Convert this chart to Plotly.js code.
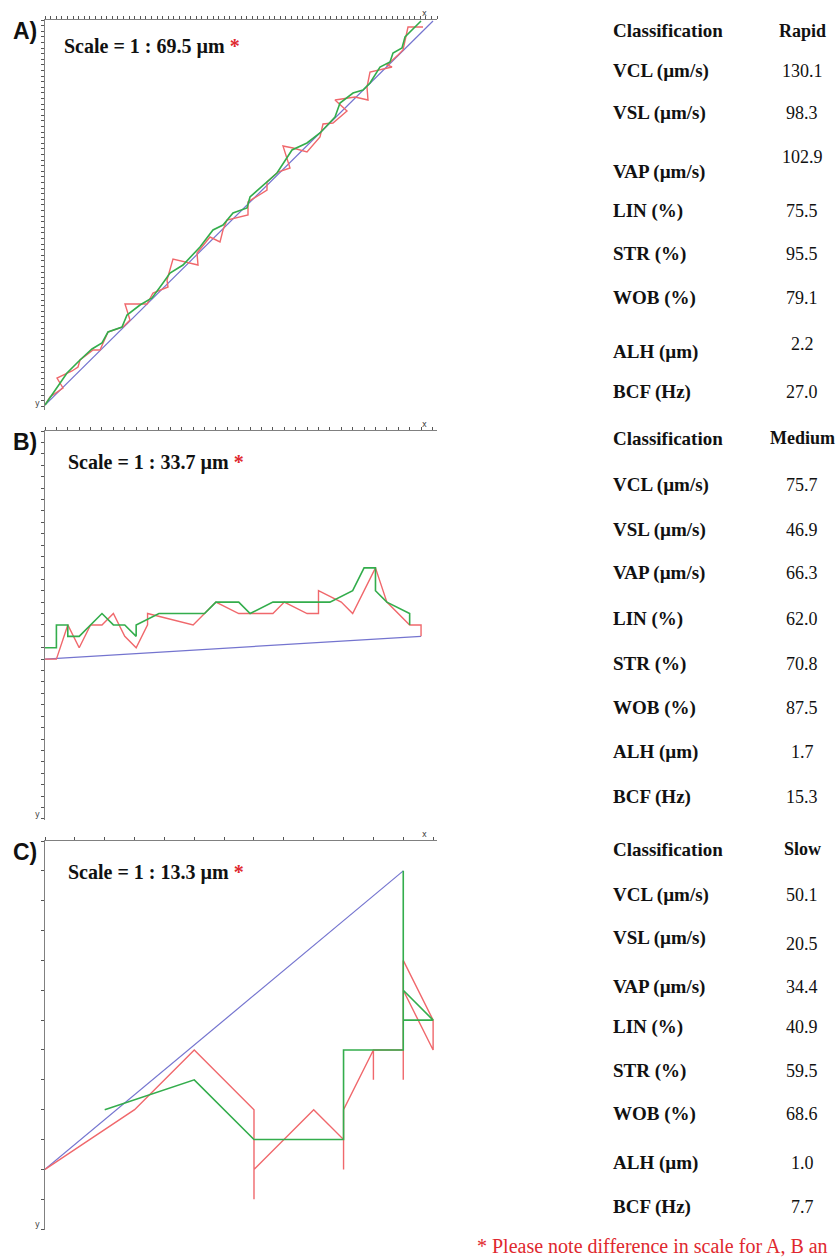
<!DOCTYPE html>
<html>
<head>
<meta charset="utf-8">
<script src="https://cdn.plot.ly/plotly-3.0.1.min.js"></script>
<style>html,body{margin:0;padding:0;background:#fff;}#chart{width:837px;height:1259px;}</style>
</head>
<body>
<div id="chart"></div>
<script>
// ---------------- DATA ----------------
// Panel A (Rapid) – track coordinates (image-pixel units, y downward)
const aVclX = [0,5,18,12,27,33,35,48,55,63,78,85,80,102,108,123,122,128,153,152,165,175,178,182,203,203,222,222,233,245,238,248,262,275,278,288,302,290,310,323,322,325,347,342,353,358,363,378];
const aVclY = [385,377,368,358,351,347,340,330,330,312,307,300,284,284,273,267,260,239,245,233,217,222,210,200,195,182,170,162,152,148,126,128,132,117,104,103,91,80,77,80,67,52,47,45,35,30,7,7];
const aVapX = [0,12,22,35,47,57,63,77,82,95,107,118,125,138,155,168,178,188,202,205,222,232,247,262,275,290,295,308,318,325,335,345,348,357,360,367,376];
const aVapY = [385,367,353,340,329,323,312,307,295,285,278,263,253,245,227,210,205,193,188,177,162,153,130,123,113,97,83,73,70,63,47,42,33,28,17,10,1];
const aVslX = [0,388];
const aVslY = [385,1];

// Panel B (Medium) – track coordinates (grid units)
const bVclX = [0,1,2,3,4,5,6,7,8,9,9,13,15,17,20,21,23,24,24,26,27,29,30,32,33,33];
const bVclY = [20,20,17,19,17,17,16,18,19,17,16,17,15,16,16,15,16,16,14,15,16,12,15,17,17,18];
const bVapX = [0,1,1,2,2,3,5,6,7,8,8,10,14,15,17,18,20,25,27,28,29,29,30,32,32];
const bVapY = [19,19,17,17,18,18,16,17,17,18,17,16,16,15,15,16,15,15,14,12,12,14,15,16,17];
const bVslX = [0,33];
const bVslY = [20,18];

// Panel C (Slow) – track coordinates (grid units)
const cVclX = [0,3,5,7,7,7,9,10,10,10,11,11,11,12,12,12,13,13,12];
const cVclY = [11,9,7,9,12,11,9,10,11,9,7,8,7,7,8,4,6,7,5];
const cVapX = [2,5,7,10,10,11,12,12,12,13,12];
const cVapY = [9,8,10,10,7,7,7,1,5,6,6];
const cVslX = [0,12];
const cVslY = [11,1];

// Table texts
const paramLabels = ["Classification","VCL (µm/s)","VSL (µm/s)","VAP (µm/s)","LIN (%)","STR (%)","WOB (%)","ALH (µm)","BCF (Hz)"];
const valuesA = ["Rapid","130.1","98.3","102.9","75.5","95.5","79.1","2.2","27.0"];
const valuesB = ["Medium","75.7","46.9","66.3","62.0","70.8","87.5","1.7","15.3"];
const valuesC = ["Slow","50.1","20.5","34.4","40.9","59.5","68.6","1.0","7.7"];
const panelLetters = ["A)","B)","C)"];
const scaleValues = ["69.5","33.7","13.3"];
const footnote = "* Please note difference in scale for A, B an";

// ---------------- LAYOUT ----------------
const W = 837, H = 1259;
const px = (X) => X / W;
const py = (Y) => 1 - Y / H;

const RED = '#f0686c', GREEN = '#33ad4c', BLUE = '#7474cf';

const panels = [
  {top:20,  bottom:410,  xr:392,  yr:390,  dt:5.6,
   vx:aVclX, vy:aVclY, gx:aVapX, gy:aVapY, sx:aVslX, sy:aVslY,
   labY:[31,71,113,172,211,254,298,352,392], valY:[31,71,113,157,211,254,298,344,392], vals:valuesA},
  {top:431, bottom:820,  xr:34.4, yr:34.1, dt:1,
   vx:bVclX, vy:bVclY, gx:bVapX, gy:bVapY, sx:bVslX, sy:bVslY,
   labY:[438,485,530,573,619,664,708,752,797], valY:[438,485,530,573,619,664,708,752,797], vals:valuesB},
  {top:841, bottom:1230, xr:13.13,yr:13.03,dt:1,
   vx:cVclX, vy:cVclY, gx:cVapX, gy:cVapY, sx:cVslX, sy:cVslY,
   labY:[849,895,938,987,1027,1071,1114,1163,1207], valY:[849,895,944,987,1027,1071,1114,1163,1207], vals:valuesC}
];

const traces = [];
const layout = {
  width: W, height: H,
  margin: {l:0, r:0, t:0, b:0},
  paper_bgcolor: '#ffffff', plot_bgcolor: '#ffffff',
  showlegend: false,
  annotations: []
};

panels.forEach((p, i) => {
  const n = i === 0 ? '' : String(i + 1);
  const xa = 'x' + n, ya = 'y' + n;
  [[p.sx, p.sy, BLUE, 1.2], [p.vx, p.vy, RED, 1.4], [p.gx, p.gy, GREEN, 1.6]].forEach(([xs, ys, c, w]) => {
    traces.push({x: xs, y: ys, xaxis: xa, yaxis: ya, type: 'scatter', mode: 'lines',
      line: {color: c, width: w}, hoverinfo: 'skip'});
  });
  layout['xaxis' + n] = {
    domain: [px(45), px(437)], anchor: ya, side: 'top', range: [0, p.xr],
    showline: true, linecolor: '#808080', linewidth: 1,
    ticks: 'outside', ticklen: 3, tickwidth: 1, tickcolor: '#555', tick0: 0, dtick: p.dt,
    showticklabels: false, showgrid: false, zeroline: false, fixedrange: true
  };
  layout['yaxis' + n] = {
    domain: [py(p.bottom), py(p.top)], anchor: xa, range: [p.yr, 0],
    showline: true, linecolor: '#808080', linewidth: 1,
    ticks: 'outside', ticklen: 3, tickwidth: 1, tickcolor: '#555', tick0: 0, dtick: p.dt,
    showticklabels: false, showgrid: false, zeroline: false, fixedrange: true
  };
  const A = layout.annotations;
  const base = {xref: 'paper', yref: 'paper', showarrow: false, yanchor: 'middle'};
  // axis letters
  A.push(Object.assign({}, base, {x: px(424), y: py(p.top - 7), xanchor: 'center', text: 'x',
    font: {family: 'DejaVu Sans', size: 8, color: '#444'}}));
  A.push(Object.assign({}, base, {x: px(37), y: py(p.bottom - 6), xanchor: 'center', text: 'y',
    font: {family: 'DejaVu Sans', size: 8, color: '#444'}}));
  // panel letter
  A.push(Object.assign({}, base, {x: px(25), y: py(p.top + 11), xanchor: 'center', text: '<b>' + panelLetters[i] + '</b>',
    font: {family: 'Liberation Sans', size: 23, color: '#111'}}));
  // scale text
  A.push(Object.assign({}, base, {x: px(i === 0 ? 62 : 66), y: py(p.top + (i === 0 ? 27 : 31)), xanchor: 'left',
    text: '<b>Scale = 1 : ' + scaleValues[i] + ' µm <span style="color:#e0282e">*</span></b>',
    font: {family: 'Liberation Serif', size: 20, color: '#111'}}));
  // table
  paramLabels.forEach((lab, r) => {
    A.push(Object.assign({}, base, {x: px(611), y: py(p.labY[r]), xanchor: 'left', text: '<b>' + lab + '</b>',
      font: {family: 'Liberation Serif', size: 19, color: '#111'}}));
    A.push(Object.assign({}, base, {x: px(802), y: py(p.valY[r]), xanchor: 'center',
      text: r === 0 ? '<b>' + p.vals[r] + '</b>' : p.vals[r],
      font: {family: 'Liberation Serif', size: 18, color: '#111'}}));
  });
});

layout.annotations.push({xref: 'paper', yref: 'paper', showarrow: false, x: px(475), y: py(1246),
  xanchor: 'left', yanchor: 'middle', text: footnote,
  font: {family: 'Liberation Serif', size: 20, color: '#e0282e'}});

Plotly.newPlot('chart', traces, layout, {displayModeBar: false, staticPlot: true});
</script>
</body>
</html>
